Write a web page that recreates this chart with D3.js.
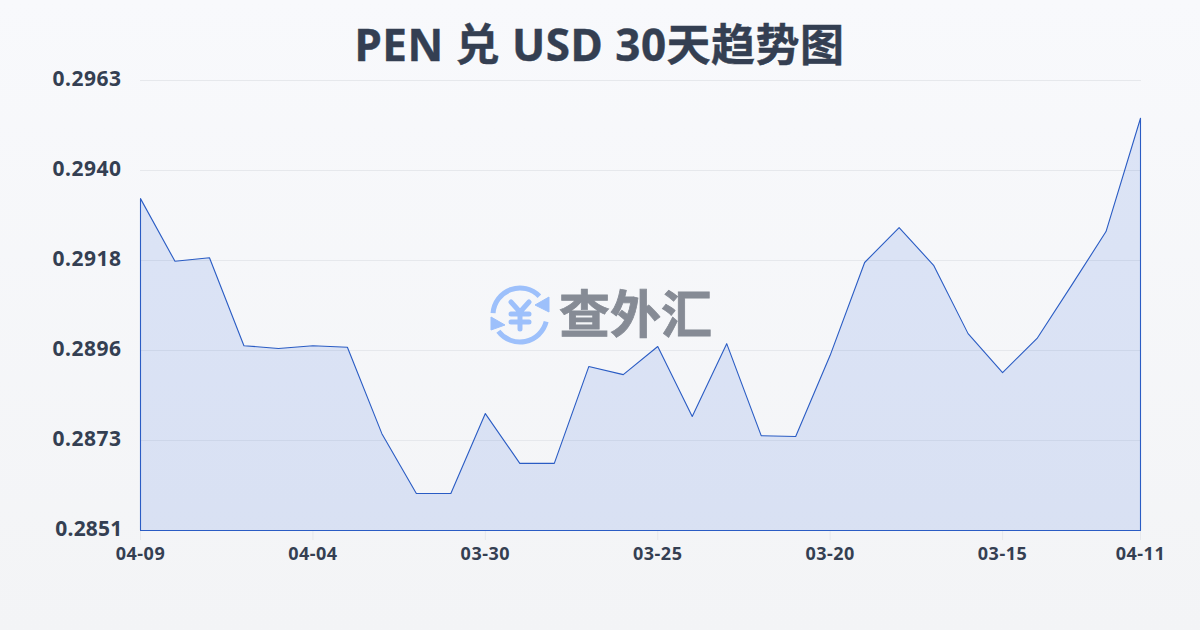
<!DOCTYPE html>
<html><head><meta charset="utf-8">
<script src="https://cdnjs.cloudflare.com/ajax/libs/d3/7.8.5/d3.min.js"></script>
<style>html,body{margin:0;padding:0;background:#f5f6f8}svg{display:block}</style>
</head><body><svg id="c" width="1200" height="630"></svg>
<script>
const titleText = "PEN 兑 USD 30天趋势图";
const watermarkText = "查外汇";
const categories = ["04-09","04-08","04-07","04-06","04-05","04-04","04-03","04-02","04-01","03-31","03-30","03-29","03-28","03-27","03-26","03-25","03-24","03-23","03-22","03-21","03-20","03-19","03-18","03-17","03-16","03-15","03-14","03-13","03-12","04-11"];
const values = [0.29336,0.29180,0.29189,0.28970,0.28963,0.28970,0.28966,0.28751,0.28602,0.28602,0.28801,0.28677,0.28677,0.28918,0.28898,0.28968,0.28794,0.28975,0.28746,0.28744,0.28946,0.29177,0.29264,0.29170,0.29000,0.28903,0.28988,0.29120,0.29254,0.29536];
const xTickLabels = ["04-09","04-04","03-30","03-25","03-20","03-15","04-11"];
const yTickValues = [0.2851,0.28734,0.28958,0.29182,0.29406,0.2963];
const yTickLabels = ["0.2851","0.2873","0.2896","0.2918","0.2940","0.2963"];
const font = "'Noto Sans','Noto Sans CJK SC',sans-serif";
const ink = "#343f52";

const svg = d3.select("#c");
const defs = svg.append("defs");
const bg = defs.append("linearGradient").attr("id","bg").attr("x1",0).attr("y1",0).attr("x2",0).attr("y2",1);
bg.append("stop").attr("offset",0).attr("stop-color","#f8f9fc");
bg.append("stop").attr("offset",1).attr("stop-color","#f3f4f6");
svg.append("rect").attr("width",1200).attr("height",630).attr("fill","url(#bg)");

const x = d3.scalePoint().domain(categories).range([140.5,1140.5]);
const y = d3.scaleLinear().domain([0.2851,0.2963]).range([530.5,80.5]);

// grid
svg.append("g").selectAll("line").data(yTickValues.slice(1)).join("line")
  .attr("x1",140).attr("x2",1141)
  .attr("y1",d=>Math.floor(y(d))+0.5).attr("y2",d=>Math.floor(y(d))+0.5)
  .attr("stroke","#e6e8ec").attr("stroke-width",1);

// area + line
const base = y.domain()[0];
const area = d3.area().x((d,i)=>x(categories[i])).y0(y(base)).y1(d=>y(d));
svg.append("path").datum(values).attr("d",area)
  .attr("fill","#4171de").attr("fill-opacity",0.15).attr("stroke","#2a5cc4").attr("stroke-width",1.1).attr("stroke-linejoin","round");

// x ticks
svg.append("g").selectAll("line").data(xTickLabels).join("line")
  .attr("x1",d=>x(d)).attr("x2",d=>x(d)).attr("y1",531).attr("y2",540)
  .attr("stroke","#e6e8ec");
svg.append("g").selectAll("text").data(xTickLabels).join("text")
  .attr("x",d=>x(d)).attr("y",560).attr("text-anchor","middle").attr("letter-spacing",0.5)
  .attr("font-family",font).attr("font-weight",700).attr("font-size",18).attr("fill",ink).text(d=>d);

// y labels
svg.append("g").selectAll("text").data(yTickValues).join("text")
  .attr("x",(d,i)=>i===0?122.5:121.5).attr("y",d=>y(d)+5).attr("text-anchor","end")
  .attr("letter-spacing",(d,i)=>i===0?0.2:0.5)
  .attr("font-family",font).attr("font-weight",700).attr("font-size",21).attr("fill",ink).text((d,i)=>yTickLabels[i]);

// title
svg.append("text").attr("x",599.5).attr("y",61).attr("text-anchor","middle").attr("letter-spacing",0.5)
  .attr("font-family",font).attr("font-weight",700).attr("font-size",44).attr("fill",ink)
  .attr("stroke",ink).attr("stroke-width",0.4).text(titleText);

// watermark
const wm = svg.append("g").attr("transform","translate(520,315)");
const blue = "#9dc0fb";
wm.append("path").attr("d",d3.arc()({innerRadius:24.5,outerRadius:29.5,startAngle:-1.5,endAngle:0.8,cornerRadius:2.5})).attr("fill",blue);
wm.append("path").attr("d",d3.arc()({innerRadius:24.5,outerRadius:29.5,startAngle:1.82,endAngle:4.07,cornerRadius:2.5})).attr("fill",blue);
wm.append("path").attr("d","M29,-18 L29,-3 L15,-10 Z").attr("fill",blue).attr("stroke",blue).attr("stroke-width",1);
wm.append("path").attr("d","M-29,2 L-29,15 L-15,10 Z").attr("fill",blue).attr("stroke",blue).attr("stroke-width",1);
wm.append("path").attr("d","M-9,-13 L0,-3 L9,-13 M-9,-1 H9 M-9,7 H9 M0,-3 V14").attr("fill","none")
  .attr("stroke",blue).attr("stroke-width",5).attr("stroke-linecap","round").attr("stroke-linejoin","round");
svg.append("text").attr("x",559).attr("y",333).attr("font-family",font).attr("font-weight",700)
  .attr("font-size",51).attr("fill","#868b95").attr("stroke","#868b95").attr("stroke-width",0.8).text(watermarkText);
</script></body></html>
